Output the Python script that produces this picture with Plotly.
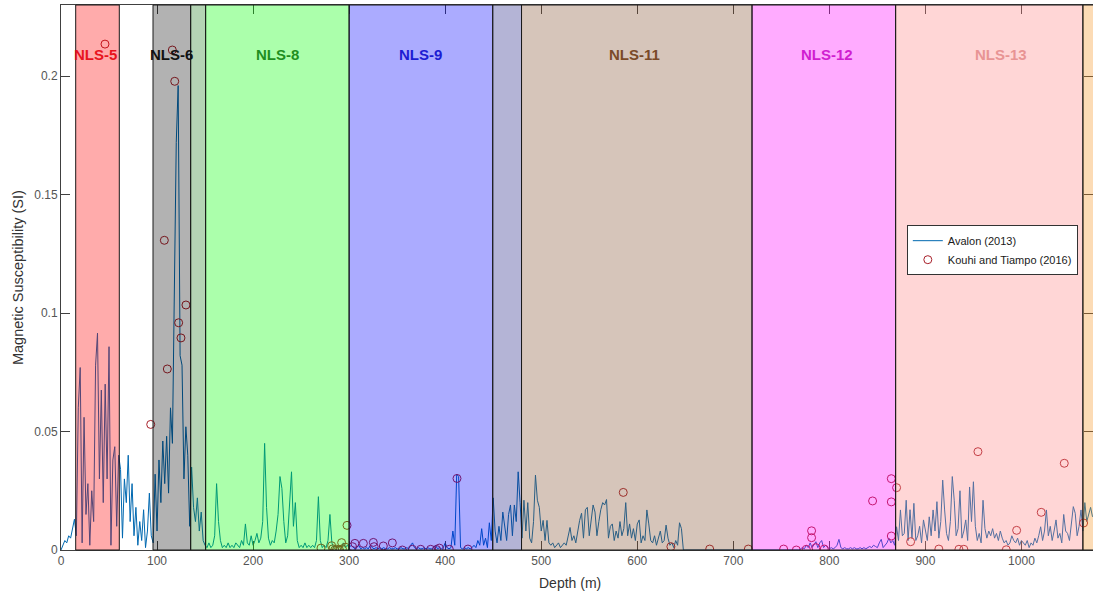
import numpy as np
import plotly.graph_objects as go

# ---------------- Avalon (2013) magnetic susceptibility log (2 m sampling) ----------------
# each segment: start depth (m), values every 2 m
seg_a_start = 0
seg_a = [0, 0.002, 0.004, 0.003, 0.006, 0.005, 0.009, 0.013, 0.006, 0.06,
         0.077, 0.003, 0.056, 0.015, 0.028, 0.002, 0.025, 0.012, 0.078, 0.0915,
         0.03, 0.0675, 0.02, 0.07, 0.03, 0.0858, 0.002, 0.038, 0.0436, 0.01, 0.04]
seg_b_start = 62
seg_b = [0.034, 0.005, 0.03, 0.02, 0.04, 0.012, 0.028, 0.006, 0.018, 0.002,
         0.012, 0.004, 0.017, 0.001, 0.008, 0.024, 0.006]
seg_c_start = 96
seg_c = [0.003, 0.032, 0.008, 0.038, 0.02, 0.046, 0.028, 0.048, 0.024, 0.06,
         0.045, 0.11, 0.172, 0.196, 0.082, 0.078, 0.03, 0.052, 0.04, 0.01,
         0.035, 0.018, 0.012, 0.022, 0.008, 0.016, 0.004]
seg_d_start = 150
seg_d = [0.002, 0.001, 0.003, 0.001, 0.002, 0.006, 0.028, 0.012, 0.004, 0.001,
         0.002, 0.001, 0.003, 0.001, 0.002, 0.001, 0.003, 0.002, 0.001, 0.004,
         0.002, 0.011, 0.003, 0.002, 0.006, 0.002, 0.004, 0.007, 0.003, 0.005,
         0.012, 0.045, 0.018, 0.005, 0.002, 0.004, 0.003, 0.008, 0.015, 0.031,
         0.026, 0.012, 0.003, 0.006, 0.018, 0.033, 0.01, 0.02, 0.004, 0.001,
         0.002, 0.001, 0.003, 0.001, 0.002, 0.001, 0.002, 0.001, 0.004, 0.0225,
         0.004, 0.001, 0.002, 0.001, 0.004, 0.015, 0.003, 0.001, 0.002, 0.001,
         0.002, 0.001, 0.003, 0.001, 0.002]
seg_e_start = 300
seg_e = [0.001, 0.002, 0.001, 0.0005, 0.001, 0.002, 0.0005, 0.001, 0.0005, 0.001,
         0.0005, 0.002, 0.001, 0.0005, 0.001, 0.0005, 0.001, 0.0005, 0.001, 0.0005,
         0.0005, 0.001, 0.0005, 0.0005, 0.001, 0.0005, 0.0005, 0.001, 0.0005, 0.0005,
         0.001, 0.0005, 0.002, 0.003, 0.001, 0.0005, 0.001, 0.0005, 0.0005, 0.001,
         0.0005, 0.001, 0.0005, 0.0005, 0.001, 0.002, 0.0005, 0.001, 0.0005, 0.001,
         0.003, 0.001, 0.0005, 0.001, 0.008, 0.002, 0.032, 0.031, 0.001, 0.0005,
         0.001, 0.0005, 0.001, 0.0005, 0.001, 0.002, 0.001, 0.004, 0.002, 0.009,
         0.002, 0.005, 0.001, 0.0115, 0.004]
seg_f_start = 450
seg_f = [0.022, 0.008, 0.003, 0.01, 0.004, 0.016, 0.009, 0.004, 0.015, 0.019,
         0.006, 0.019, 0.012, 0.033, 0.02, 0.005, 0.021, 0.008, 0.02, 0.005,
         0.003, 0.012, 0.0316, 0.021, 0.018, 0.008, 0.0125, 0.004, 0.0125, 0.003,
         0.002, 0.003, 0.001, 0.002, 0.003, 0.001, 0.002, 0.003, 0.002, 0.006,
         0.0095, 0.004, 0.006, 0.003, 0.008, 0.0125, 0.0155, 0.005, 0.017, 0.018,
         0.006, 0.014, 0.019, 0.016, 0.006, 0.012, 0.017, 0.02, 0.019, 0.0213,
         0.005, 0.01, 0.011, 0.004, 0.008, 0.005, 0.012, 0.006, 0.009, 0.02,
         0.006, 0.011, 0.005, 0.009, 0.004, 0.011, 0.0127, 0.003, 0.006, 0.004,
         0.0169, 0.011, 0.004, 0.003, 0.006, 0.002, 0.005, 0.008, 0.003, 0.004,
         0.0105, 0.005, 0.002, 0.003, 0.001, 0.004, 0.002, 0.0115, 0.009, 0.0]
seg_g_start = 650
seg_g = [0, 0, 0, 0, 0, 0, 0, 0, 0, 0,
         0, 0, 0, 0, 0, 0, 0, 0, 0, 0,
         0, 0, 0, 0, 0, 0, 0, 0, 0, 0,
         0, 0, 0, 0, 0, 0, 0, 0, 0, 0,
         0, 0, 0, 0, 0, 0, 0, 0, 0, 0,
         0, 0, 0, 0, 0, 0, 0, 0, 0, 0,
         0.0005, 0.001, 0.0005, 0.002, 0.001, 0.003, 0.001, 0.002, 0.0035, 0.001,
         0.003, 0.004, 0.001, 0.002, 0.001, 0.0005, 0.001, 0.0005, 0.001, 0.002,
         0.0045, 0.001, 0.0005, 0.001, 0.0005, 0.0005, 0.001, 0.0005, 0.001, 0.0005,
         0.0005, 0.001, 0.0005, 0.001, 0.0005, 0.001, 0.0015, 0.001, 0.002, 0.0015,
         0.001, 0.003, 0.0045, 0.001, 0.002, 0.003, 0.005, 0.003, 0.004, 0.002]
seg_h_start = 870
seg_h = [0.0098, 0.004, 0.0169, 0.006, 0.007, 0.021, 0.004, 0.017, 0.005, 0.0197,
         0.004, 0.006, 0.01, 0.003, 0.0127, 0.009, 0.004, 0.014, 0.006, 0.0169,
         0.008, 0.0204, 0.005, 0.012, 0.0295, 0.0169, 0.007, 0.004, 0.012, 0.031,
         0.021, 0.006, 0.009, 0.025, 0.005, 0.008, 0.0127, 0.004, 0.0266, 0.012,
         0.0288, 0.01, 0.004, 0.007, 0.003, 0.021, 0.009, 0.005, 0.008, 0.006,
         0.009, 0.005, 0.007, 0.004, 0.008, 0.005, 0.003, 0.004, 0.002, 0.003,
         0.006, 0.004, 0.003, 0.005, 0.002, 0.004, 0.003, 0.002, 0.004, 0.001,
         0.003, 0.002, 0.005, 0.003, 0.006, 0.0098, 0.004, 0.008, 0.0169, 0.006,
         0.01, 0.004, 0.008, 0.0127, 0.005, 0.007, 0.003, 0.015, 0.008, 0.007,
         0.004, 0.01, 0.0183, 0.0155, 0.006, 0.01, 0.0169, 0.008, 0.02, 0.012,
         0.015, 0.018, 0.014]

avalon_segments = [(seg_a_start, seg_a), (seg_b_start, seg_b), (seg_c_start, seg_c),
                   (seg_d_start, seg_d), (seg_e_start, seg_e), (seg_f_start, seg_f),
                   (seg_g_start, seg_g), (seg_h_start, seg_h)]

# ---------------- Kouhi and Tiampo (2016) ----------------
kt_depth = [45.8, 93.4, 115.9, 118.4, 107.6, 130.1, 122.5, 124.9, 110.7,
            297.8, 292.2, 270.7, 281.8, 283, 285, 287, 290, 293, 296,
            306, 303.6, 314.8, 325.2, 326, 335.6, 345, 355.4, 365.8, 374.5,
            384.9, 391, 393.9, 404.3, 412.3, 423.7,
            585.4, 635, 675.4, 715.6, 752.4, 765.6, 776, 781.5, 781.5, 786, 794.7,
            845, 864.5, 864.5, 870, 864.5, 884.6, 914, 934.9, 940, 954.7,
            984.2, 995, 1020.6, 1044.6, 1064.7]
kt_ms = [0.2135, 0.053, 0.211, 0.1978, 0.1307, 0.1034, 0.0959, 0.0895, 0.0764,
         0.0104, 0.0031, 0.0008, 0.0018, 0.0005, 0.0, 0.0003, 0.0, 0.0005, 0.0012,
         0.0028, 0.0014, 0.0028, 0.0032, 0.0014, 0.0017, 0.003, 0.0, 0.0003, 0.0003,
         0.0003, 0.0002, 0.0008, 0.0003, 0.0302, 0.0004,
         0.0243, 0.0014, 0.0004, 0.0004, 0.0004, 0.0, 0.0003, 0.0081, 0.0052, 0.001, 0.0004,
         0.0207, 0.0301, 0.0203, 0.0263, 0.0059, 0.0035, 0.0004, 0.0003, 0.0003, 0.0415,
         0.0001, 0.0083, 0.0159, 0.0366, 0.0114]

# ---------------- lithological units (bands) ----------------
band_start = [15.3, 95.8, 135.0, 150.6, 300.0, 449.5, 479.5, 719.5, 869.0, 1064.0]
band_end = [60.7, 135.0, 150.6, 300.0, 449.5, 479.5, 719.5, 869.0, 1064.0, 1100.0]
band_fill = ["rgba(255,0,0,0.33)", "rgba(0,0,0,0.30)", "rgba(28,125,28,0.33)",
             "rgba(0,255,0,0.33)", "rgba(0,0,255,0.33)", "rgba(28,28,130,0.33)",
             "rgba(130,80,45,0.33)", "rgba(255,0,255,0.33)", "rgba(255,130,130,0.33)",
             "rgba(245,145,30,0.33)"]

unit_labels = ["NLS-5", "NLS-6", "NLS-8", "NLS-9", "NLS-11", "NLS-12", "NLS-13"]
unit_label_x = [35.5, 115.5, 225.0, 374.0, 597.5, 797.5, 978.5]
unit_label_colors = ["#e8141e", "#111111", "#1f8f1f", "#1c1cd2", "#7a4a28", "#d01ed0", "#e89494"]
unit_label_y = 0.2093

x_ticks = [0, 100, 200, 300, 400, 500, 600, 700, 800, 900, 1000]
y_ticks = [0, 0.05, 0.1, 0.15, 0.2]
y_tick_text = ["0", "0.05", "0.1", "0.15", "0.2"]
x_title = "Depth (m)"
y_title = "Magnetic Susceptibility (SI)"

# build the line arrays
av_depth = []
av_ms = []
for start, vals in avalon_segments:
    av_depth.extend(list(start + 2 * np.arange(len(vals))))
    av_ms.extend(vals)

FONT = "Arial, Liberation Sans, sans-serif"
AXC = "#404040"

fig = go.Figure()
fig.add_trace(go.Scatter(x=av_depth, y=av_ms, mode="lines", name="Avalon (2013)",
                         line=dict(color="#0068B0", width=1)))
fig.add_trace(go.Scatter(x=kt_depth, y=kt_ms, mode="markers", name="Kouhi and Tiampo (2016)",
                         marker=dict(symbol="circle-open", size=8, color="#a8202a",
                                     line=dict(width=1, color="#a8202a"))))

for x0, x1, c in zip(band_start, band_end, band_fill):
    fig.add_shape(type="rect", xref="x", yref="paper", x0=x0, x1=x1, y0=0, y1=1,
                  fillcolor=c, line=dict(color="#1a1a1a", width=1), layer="above")

for lab, lx, lc in zip(unit_labels, unit_label_x, unit_label_colors):
    fig.add_annotation(x=lx, y=unit_label_y, xref="x", yref="y", text="<b>%s</b>" % lab,
                       showarrow=False, font=dict(family=FONT, size=15, color=lc))

# axis titles placed as annotations for exact positioning
fig.add_annotation(x=0.493, y=0, xref="paper", yref="paper", text=x_title, showarrow=False,
                   yanchor="middle", yshift=-33, font=dict(family=FONT, size=14, color="#333333"))
fig.add_annotation(x=0, y=0.499, xref="paper", yref="paper", text=y_title, showarrow=False,
                   textangle=-90, xanchor="center", xshift=-43,
                   font=dict(family=FONT, size=14.5, color="#333333"))

fig.update_layout(
    width=1093, height=594,
    margin=dict(l=61, r=0, t=5, b=44),
    paper_bgcolor="white", plot_bgcolor="white",
    font=dict(family=FONT, size=12, color=AXC),
    showlegend=True,
    legend=dict(x=0.8196, y=0.596, xanchor="left", yanchor="top",
                bgcolor="white", bordercolor="#333333", borderwidth=1,
                font=dict(family=FONT, size=11, color="#1a1a1a"),
                tracegroupgap=0, itemwidth=30),
)
fig.update_xaxes(range=[0, 1074.5], tickvals=x_ticks, ticks="inside", ticklen=9,
                 tickcolor=AXC, showline=True, linecolor=AXC, linewidth=1, mirror="ticks",
                 showgrid=False, zeroline=False, automargin=False,
                 tickfont=dict(family=FONT, size=12, color="#555555"))
fig.update_yaxes(range=[0, 0.23], tickvals=y_ticks, ticktext=y_tick_text, ticks="inside", ticklen=9,
                 tickcolor=AXC, showline=True, linecolor=AXC, linewidth=1, mirror="ticks",
                 showgrid=False, zeroline=False, automargin=False,
                 tickfont=dict(family=FONT, size=12, color="#555555"))

fig.write_html("out.html", config={"displayModeBar": False},
               post_script="document.body.style.margin='0';document.body.style.overflow='hidden';")
